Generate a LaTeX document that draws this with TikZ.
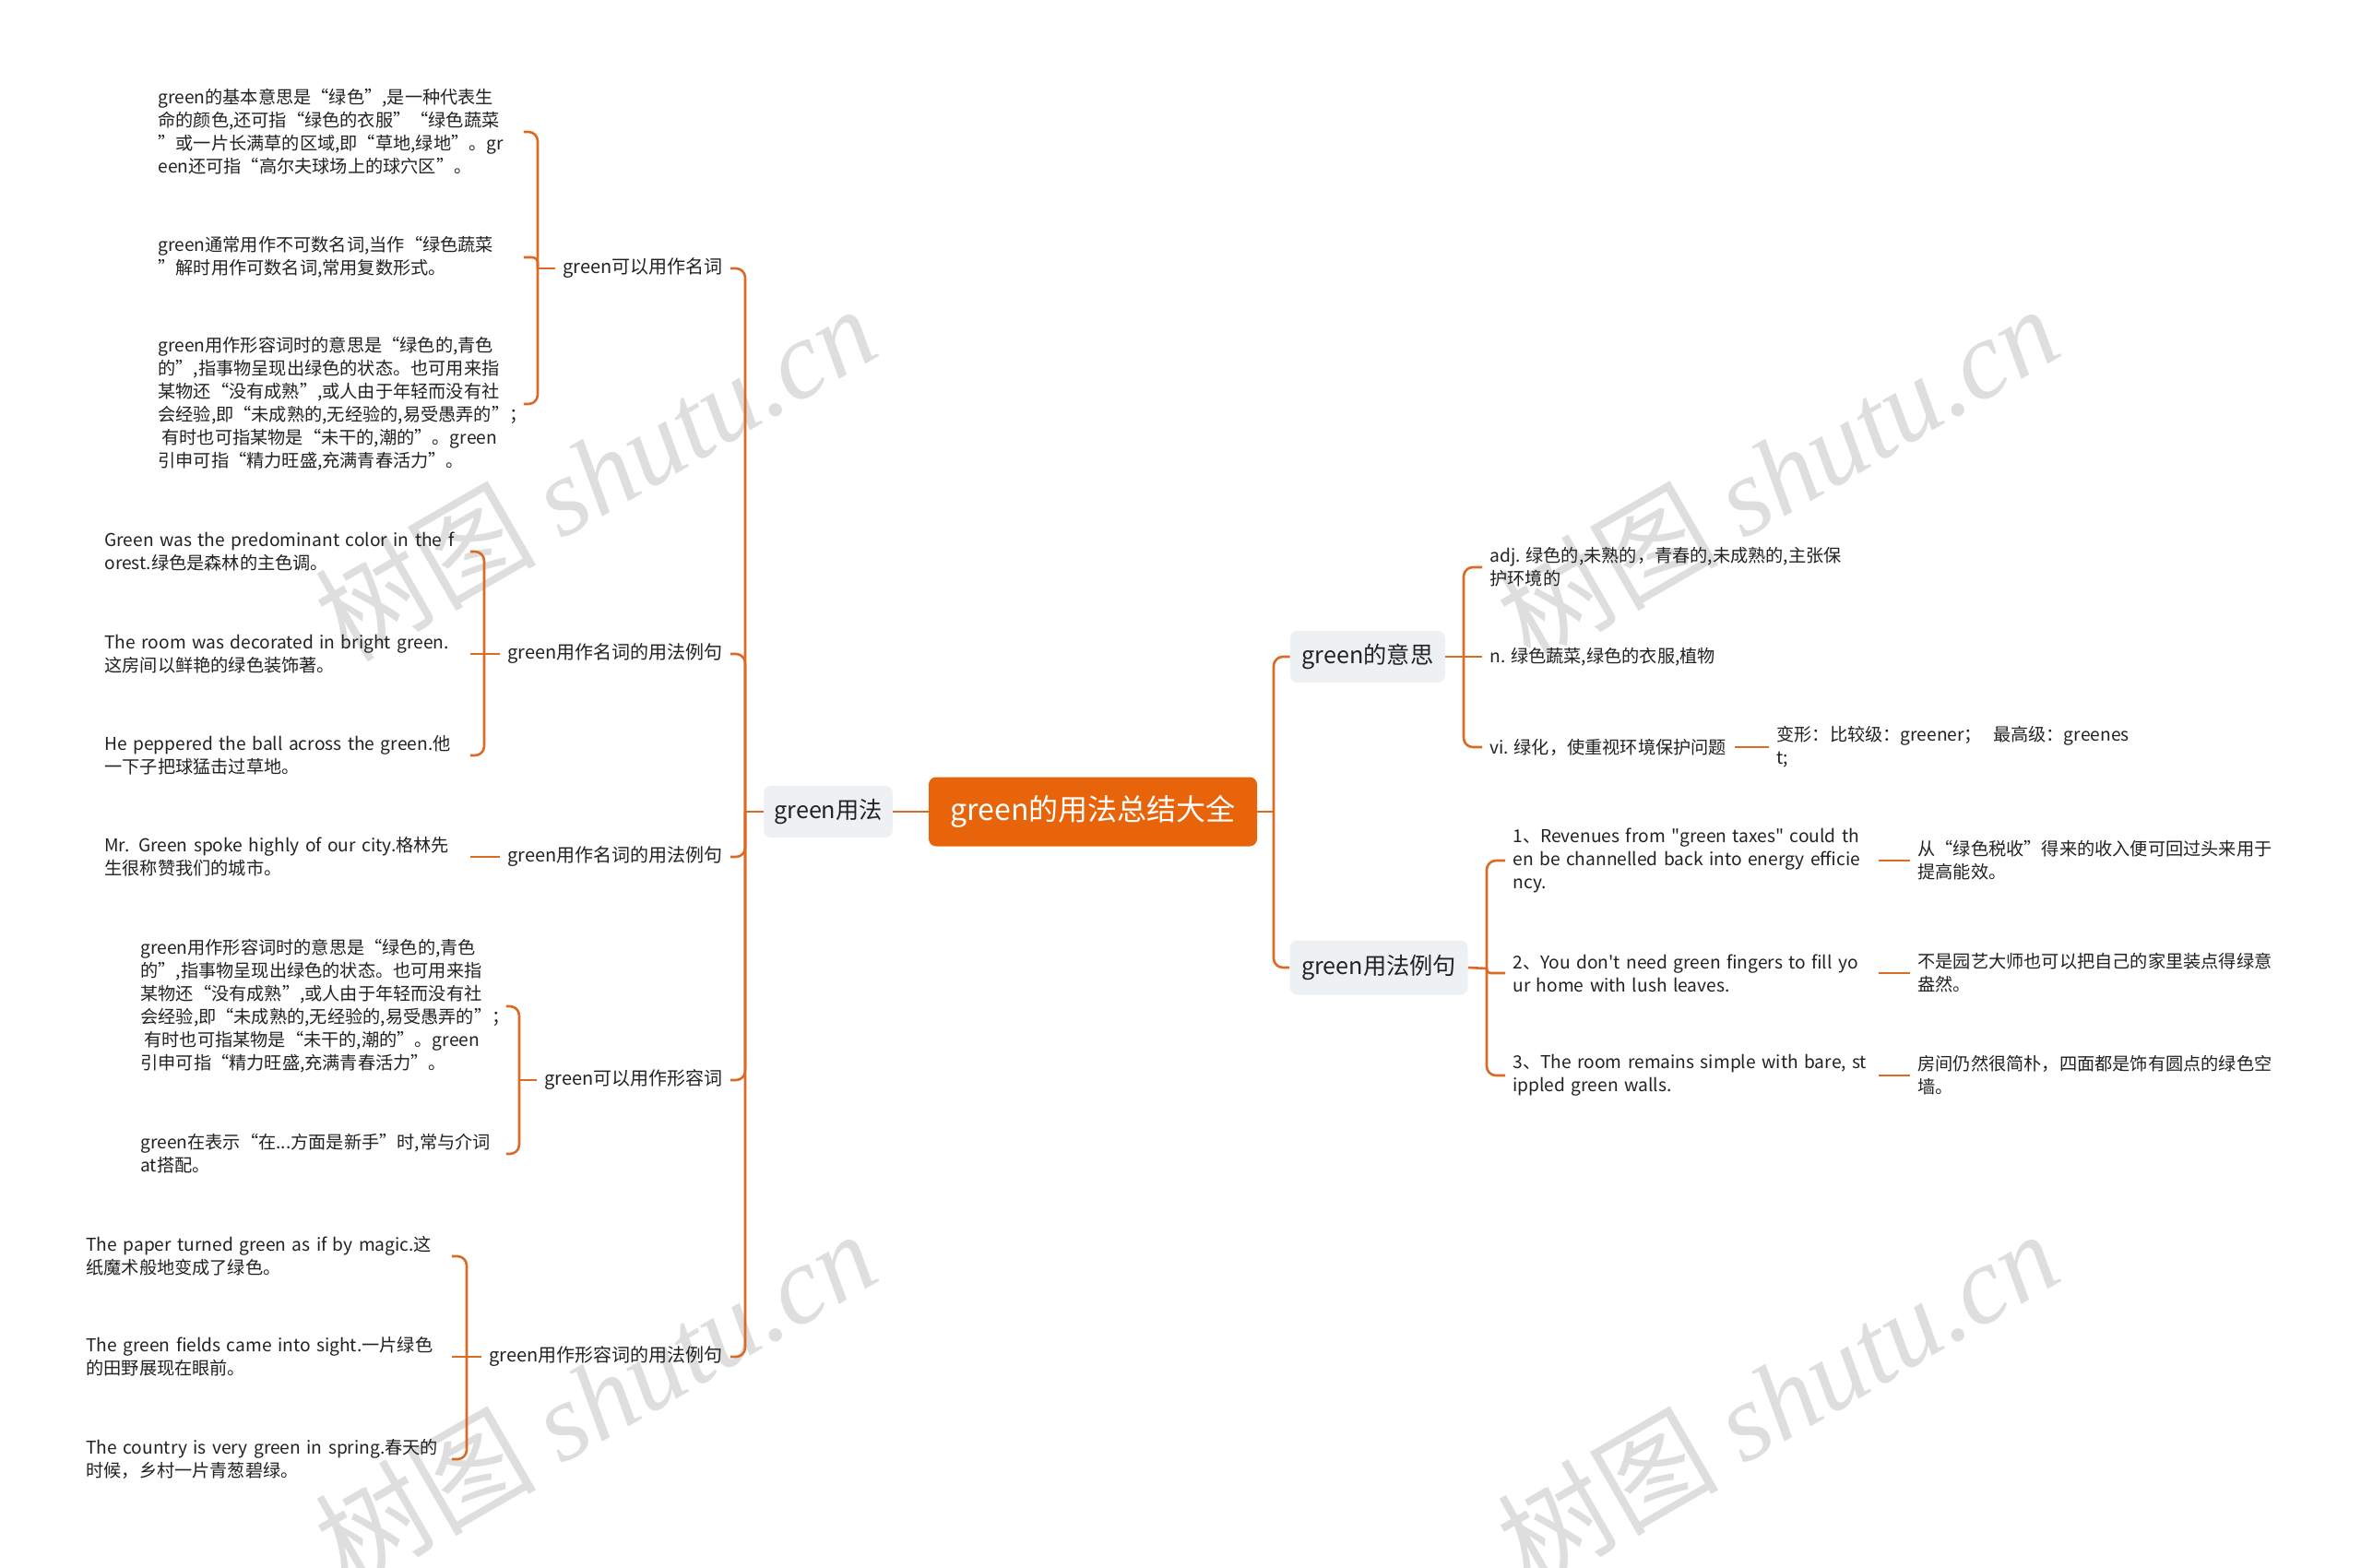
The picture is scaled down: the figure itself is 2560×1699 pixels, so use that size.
\documentclass[tikz,border=0pt]{standalone}
\usepackage{fontspec}
\setmainfont{Noto Sans CJK SC}
\newfontfamily\rawfont{Noto Sans CJK SC}
\newfontfamily\wmserif{Liberation Serif}
\newfontfamily\wmcjk{Noto Sans CJK SC}
\definecolor{orangemain}{HTML}{E8640A}
\definecolor{lineor}{HTML}{DB6A24}
\definecolor{boxgray}{HTML}{EEF1F4}
\definecolor{txt}{HTML}{222222}
\definecolor{wm}{HTML}{DEDEDE}
\newcommand\leaffont{\fontsize{9.6pt}{12.5pt}\selectfont}
\newcommand\lblfont{\fontsize{10pt}{12.5pt}\selectfont}
\newcommand\topicfont{\fontsize{12.6pt}{15pt}\selectfont}
\newcommand\centerfont{\fontsize{16pt}{19pt}\selectfont}
\newcommand\wmfont{\fontsize{60pt}{60pt}\selectfont}
\newcommand\lne[1]{\mbox{#1}}
\newcommand\dq{{\rawfont\char"22}}
\newcommand\sq{{\rawfont\char"27}}
\begin{document}
\begin{tikzpicture}[x=0.5pt,y=-0.5pt,
  conn/.style={draw=lineor,line width=1.3pt},
  rc/.style={rounded corners=5pt},
  leaf/.style={anchor=west,text width=198pt,inner xsep=0pt,inner ysep=1pt,align=left,font=\leaffont,text=txt},
  rleaf/.style={anchor=west,inner xsep=4pt,inner ysep=1pt,align=left,font=\leaffont,text=txt},
  lbl/.style={anchor=east,inner xsep=4pt,font=\lblfont,text=txt},
  topic/.style={fill=boxgray,rounded corners=4pt,font=\topicfont,text=txt,inner sep=0pt},
  wmark/.style={text=wm,rotate=30,font=\wmfont,inner sep=0pt}
]
\useasboundingbox (0,0) rectangle (2560,1699);
\fill[white] (0,0) rectangle (2560,1699);

% watermarks
\node[wmark] (wm1) at (645,512) {{\wmcjk 树图} {\wmserif\itshape shutu.cn}};
\node[wmark] (wm2) at (1927,512) {{\wmcjk 树图} {\wmserif\itshape shutu.cn}};
\node[wmark] (wm3) at (645,1515) {{\wmcjk 树图} {\wmserif\itshape shutu.cn}};
\node[wmark] (wm4) at (1927,1515) {{\wmcjk 树图} {\wmserif\itshape shutu.cn}};

% main nodes
\node[fill=orangemain,rounded corners=4pt,minimum width=178pt,minimum height=37.5pt,inner sep=0pt,text=white,font=\centerfont] (C) at (1185,880) {green的用法总结大全};
\node[topic,minimum width=70pt,minimum height=28pt] (U) at (898,880) {green用法};
\node[topic,minimum width=84pt,minimum height=28pt] (M) at (1483,712) {green的意思};
\node[topic,minimum width=96.5pt,minimum height=29.5pt] (E) at (1495,1049) {green用法例句};

% left labels
\node[lbl] (G1) at (792,291) {green可以用作名词};
\node[lbl] (G2) at (792,709) {green用作名词的用法例句};
\node[lbl] (G3) at (792,929) {green用作名词的用法例句};
\node[lbl] (G4) at (792,1171) {green可以用作形容词};
\node[lbl] (G5) at (792,1471) {green用作形容词的用法例句};

% group 1 leaves
\node[leaf] (L11) at (171,143) {\lne{green的基本意思是“绿色”,是一种代表生}\\\lne{命的颜色,还可指“绿色的衣服”“绿色蔬菜}\\\lne{”或一片长满草的区域,即“草地,绿地”。gr}\\\lne{een还可指“高尔夫球场上的球穴区”。}};
\node[leaf] (L12) at (171,279) {\lne{green通常用作不可数名词,当作“绿色蔬菜}\\\lne{”解时用作可数名词,常用复数形式。}};
\node[leaf] (L13) at (171,438) {\lne{green用作形容词时的意思是“绿色的,青色}\\\lne{的”,指事物呈现出绿色的状态。也可用来指}\\\lne{某物还“没有成熟”,或人由于年轻而没有社}\\\lne{会经验,即“未成熟的,无经验的,易受愚弄的”；}\\\lne{\hspace{2pt}有时也可指某物是“未干的,潮的”。green}\\\lne{引申可指“精力旺盛,充满青春活力”。}};

% group 2 leaves
\node[leaf] (L21) at (113,598) {\lne{Green was the predominant color in the f}\\\lne{orest.绿色是森林的主色调。}};
\node[leaf] (L22) at (113,709) {\lne{The room was decorated in bright green.}\\\lne{这房间以鲜艳的绿色装饰著。}};
\node[leaf] (L23) at (113,819) {\lne{He peppered the ball across the green.他}\\\lne{一下子把球猛击过草地。}};

% group 3 leaf
\node[leaf] (L31) at (113,929) {\lne{Mr. Green spoke highly of our city.格林先}\\\lne{生很称赞我们的城市。}};

% group 4 leaves
\node[leaf] (L41) at (152,1091) {\lne{green用作形容词时的意思是“绿色的,青色}\\\lne{的”,指事物呈现出绿色的状态。也可用来指}\\\lne{某物还“没有成熟”,或人由于年轻而没有社}\\\lne{会经验,即“未成熟的,无经验的,易受愚弄的”；}\\\lne{\hspace{2pt}有时也可指某物是“未干的,潮的”。green}\\\lne{引申可指“精力旺盛,充满青春活力”。}};
\node[leaf] (L42) at (152,1251) {\lne{green在表示“在...方面是新手”时,常与介词}\\\lne{at搭配。}};

% group 5 leaves
\node[leaf] (L51) at (93,1362) {\lne{The paper turned green as if by magic.这}\\\lne{纸魔术般地变成了绿色。}};
\node[leaf] (L52) at (93,1471) {\lne{The green fields came into sight.一片绿色}\\\lne{的田野展现在眼前。}};
\node[leaf] (L53) at (93,1582) {\lne{The country is very green in spring.春天的}\\\lne{时候，乡村一片青葱碧绿。}};

% right leaves
\node[rleaf] (R1) at (1607,615) {adj. 绿色的,未熟的，青春的,未成熟的,主张保\\护环境的};
\node[rleaf] (R2) at (1607,712) {n. 绿色蔬菜,绿色的衣服,植物};
\node[rleaf] (R3) at (1607,810) {vi. 绿化，使重视环境保护问题};
\node[rleaf] (R31) at (1918,810) {变形：比较级：greener；\hspace{6pt}最高级：greenes\\t;};

\node[rleaf,text width=194pt] (E1) at (1632,933) {\lne{1、Revenues from \dq green taxes\dq\ could th}\\\lne{en be channelled back into energy efficie}\\\lne{ncy.}};
\node[rleaf,text width=194pt] (E2) at (1632,1055) {\lne{2、You don\sq t need green fingers to fill yo}\\\lne{ur home with lush leaves.}};
\node[rleaf,text width=194pt] (E3) at (1632,1166) {\lne{3、The room remains simple with bare, st}\\\lne{ippled green walls.}};

\node[rleaf,text width=200pt] (T1) at (2071,933) {\lne{从“绿色税收”得来的收入便可回过头来用于}\\\lne{提高能效。}};
\node[rleaf,text width=200pt] (T2) at (2071,1055) {\lne{不是园艺大师也可以把自己的家里装点得绿意}\\\lne{盎然。}};
\node[rleaf,text width=200pt] (T3) at (2071,1166) {\lne{房间仍然很简朴，四面都是饰有圆点的绿色空}\\\lne{墙。}};

% junction coordinates
\coordinate (JL) at (808,880);
\coordinate (JR) at (1381,880);
\coordinate (JM) at (1587,712);
\coordinate (JE) at (1612,1050);
\coordinate (J1) at (583,291);
\coordinate (J2) at (525,709);
\coordinate (J4) at (563,1171);
\coordinate (J5) at (506,1471);

% connectors
\draw[conn] (U.east) -- (C.west);
\draw[conn] (U.west) -- (JL);
\foreach \n in {G1,G2,G3,G4,G5} \draw[conn,rc] (JL) |- (\n.east);
\draw[conn] (C.east) -- (JR);
\draw[conn,rc] (JR) |- (M.west);
\draw[conn,rc] (JR) |- (E.west);

\draw[conn] (M.east) -- (JM);
\draw[conn,rc] (JM) |- (R1.west);
\draw[conn] (JM) -- (R2.west);
\draw[conn,rc] (JM) |- (R3.west);
\draw[conn] (R3.east) -- (R31.west);

\draw[conn] (E.east) -- (JE);
\draw[conn,rc] (JE) |- (E1.west);
\draw[conn,rounded corners=2pt] (JE) |- (E2.west);
\draw[conn,rc] (JE) |- (E3.west);
\draw[conn] (E1.east) -- (T1.west);
\draw[conn] (E2.east) -- (T2.west);
\draw[conn] (E3.east) -- (T3.west);

\draw[conn] (G1.west) -- (J1);
\draw[conn,rc] (J1) |- (L11.east);
\draw[conn,rounded corners=3pt] (J1) |- (L12.east);
\draw[conn,rc] (J1) |- (L13.east);

\draw[conn] (G2.west) -- (J2);
\draw[conn,rc] (J2) |- (L21.east);
\draw[conn] (J2) -- (L22.east);
\draw[conn,rc] (J2) |- (L23.east);

\draw[conn] (G3.west) -- (L31.east);

\draw[conn] (G4.west) -- (J4);
\draw[conn,rc] (J4) |- (L41.east);
\draw[conn,rc] (J4) |- (L42.east);

\draw[conn] (G5.west) -- (J5);
\draw[conn,rc] (J5) |- (L51.east);
\draw[conn] (J5) -- (L52.east);
\draw[conn,rc] (J5) |- (L53.east);
\end{tikzpicture}
\end{document}
